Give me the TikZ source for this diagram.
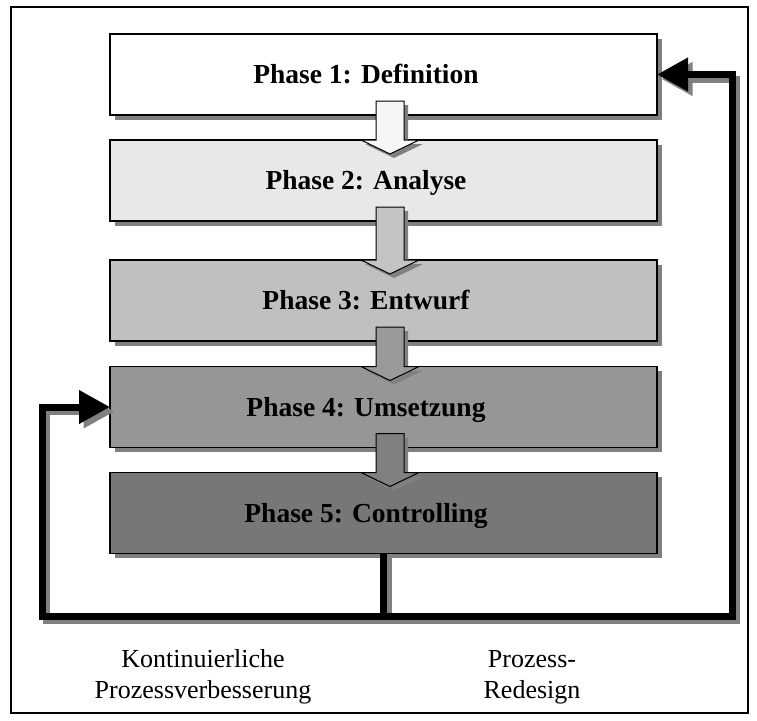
\documentclass[tikz,border=0pt]{standalone}
\usepackage{fontspec}
\setmainfont{Liberation Serif}
\usetikzlibrary{arrows.meta,shadows,calc}

\definecolor{shade}{HTML}{808080}
\definecolor{phaseA}{HTML}{FFFFFF}
\definecolor{phaseB}{HTML}{E8E8E8}
\definecolor{phaseC}{HTML}{C0C0C0}
\definecolor{phaseD}{HTML}{969696}
\definecolor{phaseE}{HTML}{777777}

% block arrow from the bottom of one phase box into the top of the next
\newcommand{\flowarrow}[3]{%
  \filldraw[flowarrow, fill=#3] let \p1=(#1.south), \p2=(#2.north) in
    (\x1-7.5pt,\y1+14pt) -- (\x1+20.5pt,\y1+14pt) -- (\x1+20.5pt,\y2)
    -- (\x1+35.5pt,\y2) -- (\x1+6.5pt,\y2-14pt) -- (\x1-22.5pt,\y2)
    -- (\x1-7.5pt,\y2) -- cycle;}

% the two feedback loops leaving phase 5
\newcommand{\feedbackloops}[1]{%
  \draw[#1] (p5.south) |- (lc) |- (p4.west);
  \draw[#1] (p5.south) |- (rc) |- (p1.east);}

\begin{document}
\begin{tikzpicture}[x=1pt,y=-1pt,
  phase/.style={draw=black, line width=1.3pt, minimum width=547pt,
    minimum height=81pt, inner sep=0pt, outer sep=0pt,
    drop shadow={shadow xshift=4.5pt, shadow yshift=-4.5pt,
      fill=shade, opacity=1}},
  phasetext/.style={font=\fontsize{27.5}{30}\selectfont\bfseries,
    xshift=-17.5pt, text height=18.5pt, text depth=0pt, inner sep=0pt},
  flowarrow/.style={draw=black, line width=1pt, line join=miter,
    drop shadow={shadow xshift=4pt, shadow yshift=-4pt,
      fill=shade, opacity=1}},
  loopline/.style={draw=black, line width=7pt, line join=miter,
    -{Triangle[length=31pt,width=32pt]}},
  loopshade/.style={loopline, draw=shade,
    transform canvas={shift={(4.5pt,-4.5pt)}}},
  caption/.style={font=\fontsize{26}{31}\selectfont, align=center,
    inner sep=0pt}]

\useasboundingbox (0,0) rectangle (757,720);
\draw[line width=1.5pt] (11,7) rectangle (748,713);

% phase boxes
\node[phase, fill=phaseA, label={[phasetext]center:Phase 1: Definition}] (p1) at (383.5,74.5) {};
\node[phase, fill=phaseB, label={[phasetext]center:Phase 2: Analyse}] (p2) at (383.5,180.5) {};
\node[phase, fill=phaseC, label={[phasetext]center:Phase 3: Entwurf}] (p3) at (383.5,300.5) {};
\node[phase, fill=phaseD, label={[phasetext]center:Phase 4: Umsetzung}] (p4) at (383.5,407) {};
\node[phase, fill=phaseE, label={[phasetext]center:Phase 5: Controlling}] (p5) at (383.5,513) {};

% sequence arrows
\flowarrow{p1}{p2}{phaseA!60!phaseB}
\flowarrow{p2}{p3}{phaseC!90!phaseB}
\flowarrow{p3}{p4}{phaseD!90!phaseC}
\flowarrow{p4}{p5}{phaseE!70!phaseD}

% feedback loops
\coordinate (lc) at (42,616);
\coordinate (rc) at (732,616);
\feedbackloops{loopshade}
\feedbackloops{loopline}

% loop captions
\node[caption, anchor=base] (kvp) at (203,698) {Kontinuierliche\\Prozessverbesserung};
\node[caption, anchor=base] (prd) at (532,698) {Prozess-\\Redesign};
\end{tikzpicture}
\end{document}
